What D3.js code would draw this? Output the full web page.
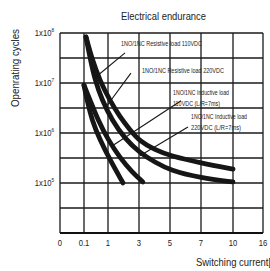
<!DOCTYPE html>
<meta charset="utf-8">
<style>
body { margin: 0; background: #fff; }
text { font-family: "Liberation Sans Narrow", "Arial Narrow", "Liberation Sans", sans-serif; fill: #222; }
.grid line { stroke: #1a1a1a; stroke-width: 1.3px; }
.curve { fill: none; stroke: #161616; stroke-width: 4.8px; stroke-linecap: round; }
.leader { stroke: #161616; stroke-width: 1.1px; }
</style>
<svg width="270" height="271"></svg>
<script src="https://cdn.jsdelivr.net/npm/d3@7"></script>
<script>

// x axis categories (switching current, A) - spaced like the original, not to scale
var categories = [0, 0.1, 1, 3, 5, 7, 10, 16];
var xTickLabels = ["0", "0.1", "1", "3", "5", "7", "10", "16"];

// y axis decades (operating cycles)
var yExponents = [5, 6, 7, 8];

// curves: current (A) / cycles
var res110Current = [0.175, 0.4, 0.7, 1.13, 1.77, 2.42, 3.06, 4.03, 5, 7, 10];
var res110Cycles  = [8.3e7, 3.0e7, 1.1e7, 4.4e6, 2.1e6, 1.15e6, 6.8e5, 4.6e5, 3.5e5, 2.5e5, 1.9e5];

var res220Current = [0.175, 0.325, 0.51, 0.775, 1.26, 2.1, 3.06, 4.03, 5, 7, 10];
var res220Cycles  = [8.3e7, 3.2e7, 1.15e7, 4.6e6, 1.8e6, 7.6e5, 4.0e5, 2.6e5, 1.8e5, 1.26e5, 1.05e5];

var ind110Current = [0.1, 0.325, 0.625, 1.0, 1.77, 2.55, 3.25];
var ind110Cycles  = [9e6, 4.6e6, 1.8e6, 7.4e5, 3.2e5, 1.66e5, 1.05e5];

var ind220Current = [0.1, 0.21, 0.4, 0.7, 1.13, 1.97];
var ind220Cycles  = [9e6, 4.6e6, 1.8e6, 7.2e5, 2.9e5, 1.0e5];

// leader lines from the labels to the curves: [current, cycles] ends
var leader110Res = [[2.1, 4.0e7], [0.59, 1.38e7]];
var leader220Res = [[2.48, 1.58e7], [0.96, 3.5e6]];
var leader110Ind = [[5.71, 4.4e6], [1.26, 5.5e5]];
var leader220Ind = [[6.16, 1.32e6], [3.06, 3.5e5]];

var svg = d3.select("svg");

var x = d3.scaleLinear()
    .domain(categories)
    .range([60, 84, 108, 139, 170, 201, 233, 263]);

var y = d3.scaleLog()
    .domain([1e4, 1e8])
    .range([233, 33]);

// half-decade grid lines
var yGrid = d3.range(8, 17).map(function(k) { return Math.pow(10, k / 2); });

var grid = svg.append("g").attr("class", "grid");

grid.selectAll(".v")
    .data(categories)
    .enter().append("line")
      .attr("x1", function(d) { return x(d); })
      .attr("x2", function(d) { return x(d); })
      .attr("y1", y(1e8))
      .attr("y2", y(1e4));

grid.selectAll(".h")
    .data(yGrid)
    .enter().append("line")
      .attr("x1", x(0))
      .attr("x2", x(16))
      .attr("y1", function(d) { return y(d); })
      .attr("y2", function(d) { return y(d); });

// bottom axis a bit heavier
svg.append("line")
    .attr("x1", x(0)).attr("x2", x(16))
    .attr("y1", y(1e4)).attr("y2", y(1e4))
    .attr("stroke", "#111").attr("stroke-width", 2);

// curves
var line = d3.line()
    .x(function(d) { return x(d[0]); })
    .y(function(d) { return y(d[1]); })
    .curve(d3.curveBasis);

function zip(a, b) { return a.map(function(v, i) { return [v, b[i]]; }); }

[[res110Current, res110Cycles], [res220Current, res220Cycles],
 [ind110Current, ind110Cycles], [ind220Current, ind220Cycles]].forEach(function(s) {
  svg.append("path")
      .attr("class", "curve")
      .attr("d", line(zip(s[0], s[1])));
});

// leaders
[leader110Res, leader220Res, leader110Ind, leader220Ind].forEach(function(l) {
  svg.append("line")
      .attr("class", "leader")
      .attr("x1", x(l[0][0])).attr("y1", y(l[0][1]))
      .attr("x2", x(l[1][0])).attr("y2", y(l[1][1]));
});

// labels on the curves
var labels = [
  { t: "1NO/1NC Resistive load  110VDC", x: 121, y: 46, w: 81 },
  { t: "1NO/1NC Resistive load  220VDC", x: 142, y: 73, w: 82 },
  { t: "1NO/1NC Inductive load", x: 173, y: 95, w: 56 },
  { t: "110VDC (L/R=7ms)", x: 173, y: 106, w: 47 },
  { t: "1NO/1NC Inductive load", x: 191, y: 119, w: 56 },
  { t: "220VDC (L/R=7ms)", x: 191, y: 130, w: 50 }
];

svg.selectAll(".lbl")
    .data(labels)
    .enter().append("text")
      .attr("x", function(d) { return d.x; })
      .attr("y", function(d) { return d.y; })
      .attr("font-size", 6.5)
      .attr("textLength", function(d) { return d.w; })
      .attr("lengthAdjust", "spacingAndGlyphs")
      .text(function(d) { return d.t; });

// x tick labels
svg.selectAll(".xt")
    .data(categories)
    .enter().append("text")
      .attr("x", function(d) { return x(d); })
      .attr("y", 246)
      .attr("text-anchor", "middle")
      .attr("font-size", 9)
      .attr("transform", function(d) { return "translate(" + x(d) + ",0) scale(0.85,1) translate(" + (-x(d)) + ",0)"; })
      .text(function(d, i) { return xTickLabels[i]; });

// y tick labels 1x10^n
var yt = svg.selectAll(".yt")
    .data(yExponents)
    .enter().append("text")
      .attr("x", 54)
      .attr("y", function(d) { return y(Math.pow(10, d)) + 3; })
      .attr("text-anchor", "end")
      .attr("font-size", 9)
      .attr("transform", "translate(54,0) scale(0.85,1) translate(-54,0)");
yt.append("tspan").text("1x10");
yt.append("tspan")
    .attr("dy", -3.5)
    .attr("font-size", 5.5)
    .text(function(d) { return d; });

// titles
svg.append("text")
    .attr("x", 121)
    .attr("y", 20)
    .attr("font-size", 11)
    .attr("textLength", 85)
    .attr("lengthAdjust", "spacingAndGlyphs")
    .text("Electrical endurance");

svg.append("text")
    .attr("transform", "translate(19,107) rotate(-90)")
    .attr("font-size", 11)
    .attr("textLength", 78)
    .attr("lengthAdjust", "spacingAndGlyphs")
    .text("Openrating cycles");

// runs past the right edge, as in the original
svg.append("text")
    .attr("x", 196)
    .attr("y", 266)
    .attr("font-size", 11)
    .attr("textLength", 84)
    .attr("lengthAdjust", "spacingAndGlyphs")
    .text("Switching current[A]");

</script>
